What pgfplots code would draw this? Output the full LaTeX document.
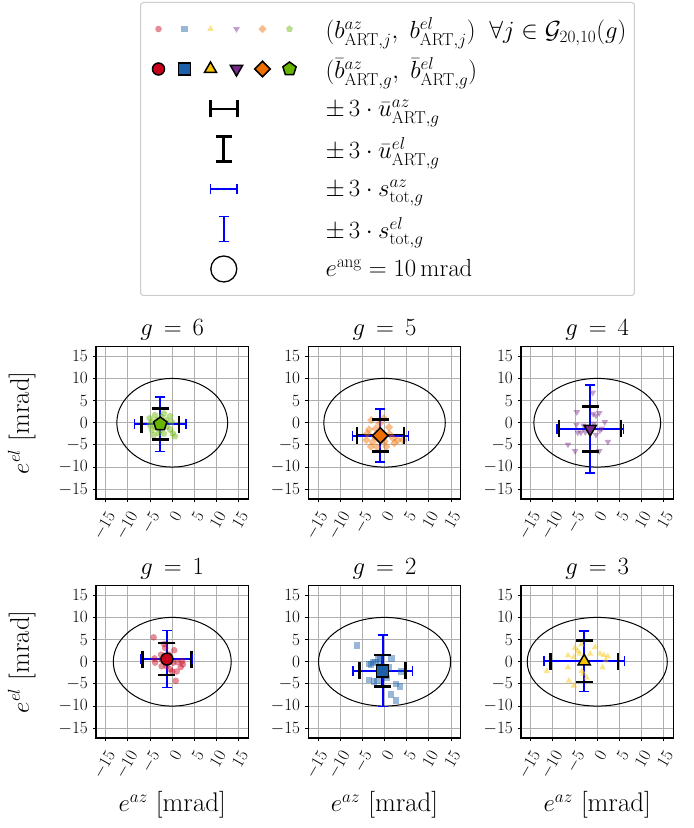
\documentclass[border=0pt]{standalone}
\usepackage{pgfplots}
\usepackage{pgfplotstable}
\pgfplotsset{compat=1.18}
\usepackage{amsmath,amssymb}
\definecolor{cR}{RGB}{200,0,28}
\definecolor{cB}{RGB}{28,96,170}
\definecolor{cY}{RGB}{246,196,0}
\definecolor{cP}{RGB}{122,42,142}
\definecolor{cO}{RGB}{240,110,0}
\definecolor{cG}{RGB}{102,182,0}
\definecolor{gridc}{RGB}{176,176,176}
\definecolor{legc}{RGB}{204,204,204}
\definecolor{ebB}{RGB}{0,0,255}

\pgfplotstableread{
x y
-4.2 5.5
-1.85 4.0
-1.6 3.1
0.45 2.6
-2.5 1.6
-4.0 0.75
-3.85 -0.2
-2.4 -1.0
-1.3 -1.0
0.2 -0.2
1.2 -0.1
2.2 0.15
1.9 -1.2
1.0 -2.2
0.0 -2.2
0.8 -4.3
-0.5 -1.7
-2.4 0.5
2.4 -0.6
-0.7 1.6
}\ptsA
\pgfplotstableread{
x y
-6.2 3.7
1.55 0.75
-1.4 0.5
-2.0 0.0
-3.1 -0.6
-3.5 -0.45
-2.6 -0.2
-1.0 0.6
1.0 -1.3
3.8 -2.2
-3.5 -4.15
-2.4 -4.45
-1.6 -4.3
0.6 -3.7
2.6 -5.0
3.55 -5.55
1.5 -7.4
2.6 -8.75
-0.9 -1.0
0.2 -3.2
}\ptsB
\pgfplotstableread{
x y
-11.4 -2.1
-6.6 1.4
-6.6 -1.3
-6.4 -4.3
-5.3 -5.4
-5.0 3.1
-4.4 2.4
-4.0 1.8
-3.6 3.9
-1.6 1.8
-0.5 3.3
0.6 1.8
1.5 1.5
2.4 1.2
1.9 0.3
1.2 -1.3
-2.4 -3.6
-3.1 -2.7
-3.5 -2.1
-5.3 1.0
}\ptsC
\pgfplotstableread{
x y
-1.0 6.8
-4.6 2.4
-0.9 2.0
0.45 2.2
1.7 0.15
-4.7 -0.45
-3.1 -0.6
-4.4 -2.2
-3.7 -2.2
-2.7 -2.1
-0.3 -2.7
0.6 -1.7
2.4 -4.3
-6.6 -4.9
-5.0 -6.4
0.45 -6.4
-0.75 -0.2
-0.3 1.6
-1.5 -1.7
1.0 -1.3
}\ptsD
\pgfplotstableread{
x y
-3.0 0.6
-0.15 1.0
1.0 -1.0
-3.5 -1.5
-2.0 -1.3
-4.1 -3.9
-3.1 -5.4
-1.7 -5.5
0.4 -5.4
3.0 -3.9
4.1 -3.9
1.9 -3.5
0.0 -4.2
-2.2 -3.1
-1.1 -0.15
1.1 -2.5
-2.6 -4.3
2.2 -4.6
-3.9 -2.4
-0.7 -3.9
}\ptsE
\pgfplotstableread{
x y
-3.9 1.7
-5.1 1.0
-0.5 1.5
-0.15 0.2
-4.6 -1.6
-4.25 -2.8
0.6 -3.1
-1.3 -0.9
-3.5 0.6
-1.9 2.1
-5.0 -0.5
-0.5 -1.5
-3.1 -2.4
-2.4 1.3
-3.9 -0.9
0.1 -2.4
-1.3 0.6
-4.6 0.2
-2.7 -1.6
-1.9 -2.5
}\ptsF

\pgfplotsset{
  myax/.style={
    width=152.5bp, height=152.5bp, scale only axis, anchor=south west,
    xmin=-17.2, xmax=17.2, ymin=-17.2, ymax=17.2,
    xtick={-15,-10,...,15}, ytick={-15,-10,...,15},
    grid=major, major grid style={line width=1.1bp, color=gridc},
    axis line style={line width=1.1bp},
    tick align=outside, tick pos=left,
    major tick length=3.5bp, every tick/.style={black, line width=1.1bp},
    tick label style={font=\fontsize{16.5}{19}\selectfont},
    xticklabel style={yshift=-6bp, rotate=60, anchor=north east, inner sep=1bp},
    yticklabel style={inner sep=2bp, xshift=-2.5bp},
    title style={font=\fontsize{27}{31}\selectfont, at={(axis description cs:0.5,1.033)}, anchor=base},
    label style={font=\fontsize{27}{31}\selectfont},
    xlabel style={at={(axis description cs:0.5,-0.479)}, anchor=base},
    ylabel style={at={(axis description cs:-0.44,0.5)}, anchor=base},
  },
  pts/.style={only marks, mark size=3.3bp},
  meanm/.style={only marks, mark size=6bp},
  bk/.style={black, line width=2.3bp, forget plot, mark size=8.5bp, mark options={line width=2.6bp, solid}},
  bb/.style={ebB, line width=1.9bp, forget plot, mark size=5bp, mark options={line width=1.5bp, solid}},
}

\begin{document}
\begin{tikzpicture}
\path[use as bounding box] (0,0) rectangle (694bp,828bp);

% ---------- legend ----------
\begin{axis}[at={(140bp,533bp)}, anchor=south west, width=494bp, height=293bp, scale only axis,
  hide axis, xmin=0, xmax=1, ymin=0, ymax=1,
  legend style={at={(axis description cs:0,1)}, anchor=north west,
    draw=legc, line width=1bp, rounded corners=3bp, fill=white,
    inner xsep=6bp, inner ysep=6.5bp, row sep=0pt, column sep=17bp,
    font=\fontsize{24}{29}\selectfont, cells={anchor=west},
    nodes={inner sep=2bp}},
  ]
\addlegendimage{legend image code/.code={
  \path[draw=none, fill=none] (0bp,-20bp) rectangle (160bp,20bp);
  \path plot[mark=*, mark size=3.3bp, mark options={draw opacity=0, fill=cR, fill opacity=0.45}] coordinates {(12bp,0bp)};
  \path plot[mark=square*, mark size=3.2bp, mark options={draw opacity=0, fill=cB, fill opacity=0.45}] coordinates {(38bp,0bp)};
  \path plot[mark=triangle*, mark size=3.8bp, mark options={draw opacity=0, fill=cY, fill opacity=0.45}] coordinates {(64bp,0bp)};
  \path plot[mark=triangle*, mark size=3.8bp, mark options={draw opacity=0, fill=cP, fill opacity=0.45, rotate=180}] coordinates {(90bp,0bp)};
  \path plot[mark=square*, mark size=2.9bp, mark options={draw opacity=0, fill=cO, fill opacity=0.45, rotate=45}] coordinates {(116bp,0bp)};
  \path plot[mark=pentagon*, mark size=3.6bp, mark options={draw opacity=0, fill=cG, fill opacity=0.45}] coordinates {(143bp,0bp)};
}}
\addlegendentry{$(b^{az}_{\mathrm{ART},j},\ b^{el}_{\mathrm{ART},j})\;\;\forall j\in\mathcal{G}_{20,10}(g)$}
\addlegendimage{legend image code/.code={
  \path[draw=none, fill=none] (0bp,-20bp) rectangle (160bp,20bp);
  \path plot[mark=*, mark size=6bp, mark options={draw=black, line width=1.5bp, fill=cR}] coordinates {(12bp,0bp)};
  \path plot[mark=square*, mark size=6bp, mark options={draw=black, line width=1.5bp, fill=cB}] coordinates {(38bp,0bp)};
  \path plot[mark=triangle*, mark size=7bp, mark options={draw=black, line width=1.5bp, fill=cY}] coordinates {(64bp,0bp)};
  \path plot[mark=triangle*, mark size=7bp, mark options={draw=black, line width=1.5bp, fill=cP, rotate=180}] coordinates {(90bp,0bp)};
  \path plot[mark=square*, mark size=5.5bp, mark options={draw=black, line width=1.5bp, fill=cO, rotate=45}] coordinates {(116bp,0bp)};
  \path plot[mark=pentagon*, mark size=7bp, mark options={draw=black, line width=1.5bp, fill=cG}] coordinates {(143bp,0bp)};
}}
\addlegendentry{$(\bar{b}^{az}_{\mathrm{ART},g},\ \bar{b}^{el}_{\mathrm{ART},g})$}
\addlegendimage{legend image code/.code={
  \path[draw=none, fill=none] (0bp,-20bp) rectangle (160bp,20bp);
  \draw[black, line width=2.8bp, rounded corners=0pt] (64bp,0bp) -- (90.7bp,0bp);
  \draw[black, line width=2.8bp] (64bp,-8.5bp) -- (64bp,8.5bp);
  \draw[black, line width=2.8bp] (90.7bp,-8.5bp) -- (90.7bp,8.5bp);
}}
\addlegendentry{$\pm\, 3\cdot \bar{u}^{az}_{\mathrm{ART},g}$}
\addlegendimage{legend image code/.code={
  \path[draw=none, fill=none] (0bp,-20bp) rectangle (160bp,20bp);
  \draw[black, line width=2.8bp] (77.3bp,-12.8bp) -- (77.3bp,12.8bp);
  \draw[black, line width=2.8bp] (69bp,-12.8bp) -- (85.6bp,-12.8bp);
  \draw[black, line width=2.8bp] (69bp,12.8bp) -- (85.6bp,12.8bp);
}}
\addlegendentry{$\pm\, 3\cdot \bar{u}^{el}_{\mathrm{ART},g}$}
\addlegendimage{legend image code/.code={
  \path[draw=none, fill=none] (0bp,-20bp) rectangle (160bp,20bp);
  \draw[ebB, line width=1.8bp] (64bp,0bp) -- (90.7bp,0bp);
  \draw[ebB, line width=1.5bp] (64bp,-5.3bp) -- (64bp,5.3bp);
  \draw[ebB, line width=1.5bp] (90.7bp,-5.3bp) -- (90.7bp,5.3bp);
}}
\addlegendentry{$\pm\, 3\cdot s^{az}_{\mathrm{tot},g}$}
\addlegendimage{legend image code/.code={
  \path[draw=none, fill=none] (0bp,-20bp) rectangle (160bp,20bp);
  \draw[ebB, line width=1.8bp] (77.3bp,-12.5bp) -- (77.3bp,12.5bp);
  \draw[ebB, line width=1.5bp] (72.3bp,-12.5bp) -- (82.3bp,-12.5bp);
  \draw[ebB, line width=1.5bp] (72.3bp,12.5bp) -- (82.3bp,12.5bp);
}}
\addlegendentry{$\pm\, 3\cdot s^{el}_{\mathrm{tot},g}$}
\addlegendimage{legend image code/.code={
  \path[draw=none, fill=none] (0bp,-20bp) rectangle (160bp,20bp);
  \draw[black, line width=1.3bp] (77.3bp,0bp) circle[radius=13bp];
}}
\addlegendentry{$e^{\mathrm{ang}}=10\,\mathrm{mrad}$}
\end{axis}

% ---------- row 1 ----------
\begin{axis}[myax, at={(96bp,329bp)}, title={$g\,=\,6$}, ylabel={$e^{el}$ [mrad]}]
\draw[black, line width=1bp] (axis cs:0,0) ellipse [x radius=12.5, y radius=10];
\addplot[pts, mark=pentagon*, mark size=3.6bp, mark options={draw opacity=0, fill=cG, fill opacity=0.45}] table {\ptsF};
\addplot[bk, mark=|] coordinates {(-6.9,-0.3) (1.5,-0.3)};
\addplot[bk, mark=-] coordinates {(-2.7,-3.8) (-2.7,3.2)};
\addplot[bb, mark=|] coordinates {(-8.55,-0.3) (3.15,-0.3)};
\addplot[bb, mark=-] coordinates {(-2.7,-6.45) (-2.7,5.85)};
\addplot[meanm, mark=pentagon*, mark size=7bp, mark options={draw=black, line width=1.5bp, fill=cG}] coordinates {(-2.7,-0.3)};
\end{axis}

\begin{axis}[myax, at={(308.3bp,329bp)}, title={$g\,=\,5$}]
\draw[black, line width=1bp] (axis cs:0,0) ellipse [x radius=13.7, y radius=10];
\addplot[pts, mark=square*, mark size=2.9bp, mark options={draw opacity=0, fill=cO, fill opacity=0.45, rotate=45}] table {\ptsE};
\addplot[bk, mark=|] coordinates {(-6.25,-2.9) (4.35,-2.9)};
\addplot[bk, mark=-] coordinates {(-0.95,-6.5) (-0.95,0.7)};
\addplot[bb, mark=|] coordinates {(-7.25,-2.9) (5.35,-2.9)};
\addplot[bb, mark=-] coordinates {(-0.95,-8.9) (-0.95,3.1)};
\addplot[meanm, mark=square*, mark size=5.5bp, mark options={draw=black, line width=1.5bp, fill=cO, rotate=45}] coordinates {(-0.95,-2.9)};
\end{axis}

\begin{axis}[myax, at={(521bp,329bp)}, title={$g\,=\,4$}]
\draw[black, line width=1bp] (axis cs:0,0) ellipse [x radius=14.3, y radius=10];
\addplot[pts, mark=triangle*, mark size=3.8bp, mark options={draw opacity=0, fill=cP, fill opacity=0.45, rotate=180}] table {\ptsD};
\addplot[bk, mark=|] coordinates {(-8.6,-1.4) (5.4,-1.4)};
\addplot[bk, mark=-] coordinates {(-1.6,-6.5) (-1.6,3.7)};
\addplot[bb, mark=|] coordinates {(-9.1,-1.4) (5.9,-1.4)};
\addplot[bb, mark=-] coordinates {(-1.6,-11.3) (-1.6,8.5)};
\addplot[meanm, mark=triangle*, mark size=7bp, mark options={draw=black, line width=1.5bp, fill=cP, rotate=180}] coordinates {(-1.6,-1.4)};
\end{axis}

% ---------- row 2 ----------
\begin{axis}[myax, at={(96bp,90bp)}, title={$g\,=\,1$}, ylabel={$e^{el}$ [mrad]}, xlabel={$e^{az}$ [mrad]}]
\draw[black, line width=1bp] (axis cs:0,0) ellipse [x radius=13.3, y radius=10];
\addplot[pts, mark=*, mark size=3.3bp, mark options={draw opacity=0, fill=cR, fill opacity=0.45}] table {\ptsA};
\addplot[bk, mark=|] coordinates {(-6.7,0.6) (4.3,0.6)};
\addplot[bk, mark=-] coordinates {(-1.2,-3.0) (-1.2,4.2)};
\addplot[bb, mark=|] coordinates {(-7.0,0.6) (4.6,0.6)};
\addplot[bb, mark=-] coordinates {(-1.2,-5.8) (-1.2,7.0)};
\addplot[meanm, mark=*, mark size=6bp, mark options={draw=black, line width=1.5bp, fill=cR}] coordinates {(-1.2,0.6)};
\end{axis}

\begin{axis}[myax, at={(308.3bp,90bp)}, title={$g\,=\,2$}, xlabel={$e^{az}$ [mrad]}]
\draw[black, line width=1bp] (axis cs:0,0) ellipse [x radius=14.9, y radius=10];
\addplot[pts, mark=square*, mark size=3.2bp, mark options={draw opacity=0, fill=cB, fill opacity=0.45}] table {\ptsB};
\addplot[bk, mark=|] coordinates {(-5.65,-2.05) (4.75,-2.05)};
\addplot[bk, mark=-] coordinates {(-0.45,-5.65) (-0.45,1.55)};
\addplot[bb, mark=|] coordinates {(-7.15,-2.05) (6.25,-2.05)};
\addplot[bb, mark=-] coordinates {(-0.45,-10.15) (-0.45,6.05)};
\addplot[meanm, mark=square*, mark size=6bp, mark options={draw=black, line width=1.5bp, fill=cB}] coordinates {(-0.45,-2.05)};
\end{axis}

\begin{axis}[myax, at={(521bp,90bp)}, title={$g\,=\,3$}, xlabel={$e^{az}$ [mrad]}]
\draw[black, line width=1bp] (axis cs:0,0) ellipse [x radius=15.8, y radius=10];
\addplot[pts, mark=triangle*, mark size=3.8bp, mark options={draw opacity=0, fill=cY, fill opacity=0.45}] table {\ptsC};
\addplot[bk, mark=|] coordinates {(-10.55,0.1) (4.65,0.1)};
\addplot[bk, mark=-] coordinates {(-2.95,-4.6) (-2.95,4.8)};
\addplot[bb, mark=|] coordinates {(-12.05,0.1) (6.15,0.1)};
\addplot[bb, mark=-] coordinates {(-2.95,-6.7) (-2.95,6.9)};
\addplot[meanm, mark=triangle*, mark size=7bp, mark options={draw=black, line width=1.5bp, fill=cY}] coordinates {(-2.95,0.1)};
\end{axis}
\end{tikzpicture}
\end{document}
